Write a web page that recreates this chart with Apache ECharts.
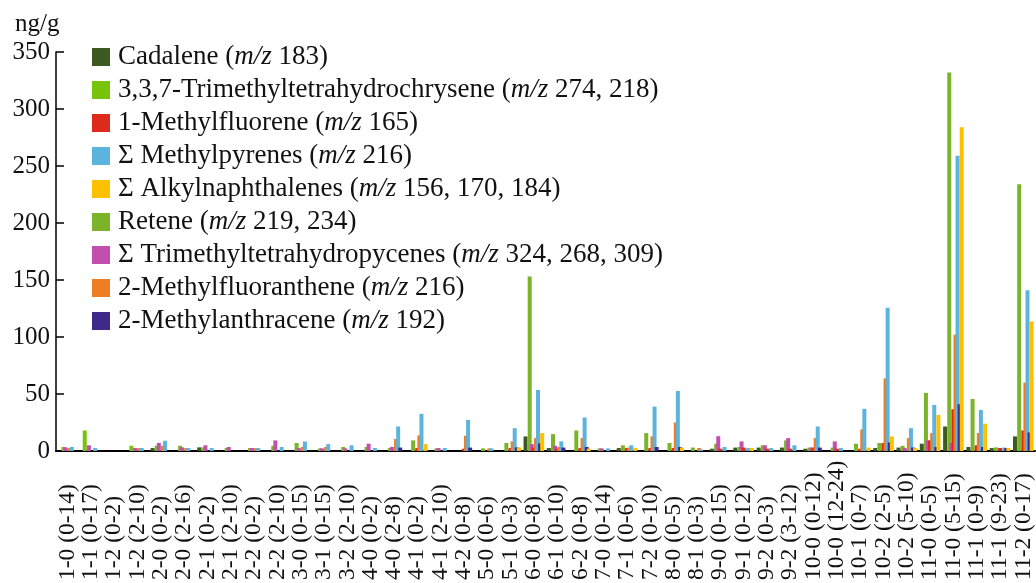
<!DOCTYPE html>
<html>
<head>
<meta charset="utf-8">
<script src="https://cdn.jsdelivr.net/npm/echarts@6/dist/echarts.min.js"></script>
<style>
  html, body { margin: 0; padding: 0; background: #fff; }
  #chart { width: 1036px; height: 583px; }
</style>
</head>
<body>
<div id="chart"></div>
<script>
// Sample codes: core - section (depth interval, cm)
const categories = [
  '1-0 (0-14)', '1-1 (0-17)', '1-2 (0-2)', '1-2 (2-10)', '2-0 (0-2)', '2-0 (2-16)',
  '2-1 (0-2)', '2-1 (2-10)', '2-2 (0-2)', '2-2 (2-10)', '3-0 (0-15)', '3-1 (0-15)',
  '3-2 (2-10)', '4-0 (0-2)', '4-0 (2-8)', '4-1 (0-2)', '4-1 (2-10)', '4-2 (0-8)',
  '5-0 (0-6)', '5-1 (0-3)', '6-0 (0-8)', '6-1 (0-10)', '6-2 (0-8)', '7-0 (0-14)',
  '7-1 (0-6)', '7-2 (0-10)', '8-0 (0-5)', '8-1 (0-3)', '9-0 (0-15)', '9-1 (0-12)',
  '9-2 (0-3)', '9-2 (3-12)', '10-0 (0-12)', '10-0 (12-24)', '10-1 (0-7)', '10-2 (2-5)',
  '10-2 (5-10)', '11-0 (0-5)', '11-0 (5-15)', '11-1 (0-9)', '11-1 (9-23)', '11-2 (0-17)'
];

const yTicks = [0, 50, 100, 150, 200, 250, 300, 350];

// Concentrations, ng/g (one value per sample above)
const cadalene = [
  0, 0, 0, 0, 2.6, 0, 3.2, 0, 0, 0, 0, 0, 0, 0,
  0, 0, 0, 0, 0, 0, 12.8, 2.6, 0, 0, 2.6, 0, 0, 0,
  2, 3, 3, 3, 2, 0, 0, 2.6, 3, 6.4, 21.5, 3.5, 2.6, 12.8
];
const trimethylTetrahydrochrysene = [
  0, 18, 0, 4.6, 0, 0, 0, 0, 0, 0, 0, 0, 0, 0,
  0, 0, 0, 0, 0, 0, 0, 0, 0, 0, 0, 0, 0, 0,
  0, 0, 0, 0, 0, 0, 0, 0, 0, 0, 0, 0, 0, 0
];
const methylfluorene = [
  0, 0, 0, 0, 0, 0, 0, 0, 0, 0, 0, 0, 0, 0,
  0, 2.6, 0, 2, 0, 2.6, 3, 2, 2.6, 0, 2.6, 2.6, 2.6, 0,
  2, 3, 2, 2, 3, 2, 2, 7, 0, 9.3, 36.6, 5, 2.6, 18
];
const methylpyrenes = [
  3.5, 2.6, 0, 2.6, 9, 2.6, 2.6, 0, 2.6, 3.5, 8.4, 6, 5, 2.6,
  21.5, 32.6, 2.6, 27.3, 2.3, 20, 53.5, 8.4, 29.4, 2.3, 5, 39, 52.6, 1.5,
  3.5, 2.6, 2.6, 5, 21.5, 2.6, 37, 125.6, 20, 40.4, 259, 36, 3, 141
];
const alkylnaphthalenes = [
  0, 0, 0, 0, 0, 0, 0, 0, 0, 0, 0, 0, 0, 0,
  0, 6, 0, 0, 0, 3.2, 15.7, 0, 2, 0, 2.6, 0, 3, 0,
  0, 2.6, 0, 0, 0, 0, 3, 12.8, 2.6, 31.7, 284, 24, 2.6, 113.7
];
const retene = [
  3.5, 0, 0, 2.6, 4.6, 4.6, 3.2, 2.6, 2.6, 4.6, 7, 2.3, 3.5, 3.5,
  2.6, 9.3, 2.3, 0, 2.3, 7, 153, 14.8, 18, 2.3, 5, 15.7, 7, 3,
  6.4, 3.5, 5, 9.3, 3, 3, 6.4, 7, 4.6, 51, 332, 45.6, 3.2, 234
];
const trimethylTetrahydropycenes = [
  3.2, 5, 0, 2.6, 7, 3.2, 5, 3.5, 2.6, 9.3, 2.6, 2.3, 2.3, 6.4,
  3.5, 0, 2.6, 0, 0, 0, 6, 4.6, 0, 2.3, 0, 0, 0, 0,
  13, 8.4, 5, 11.3, 3, 8.4, 0, 0, 2.6, 9.3, 7, 0, 0, 0
];
const methylfluoranthene = [
  2.6, 0, 0, 2.6, 4.6, 2.6, 0, 0, 2.6, 0, 3.5, 3.5, 0, 0,
  10.5, 13.7, 0, 13.4, 2.3, 8.4, 11.3, 3.5, 11.3, 0, 3, 12.8, 25, 2.6,
  0, 0, 0, 0, 11.3, 0, 19, 63.7, 11.3, 15.7, 102, 15.7, 0, 60
];
const methylanthracene = [
  0, 0, 0, 0, 0, 0, 0, 0, 0, 0, 0, 0, 0, 0,
  3, 0, 0, 3, 0, 3.2, 6.7, 3, 3.5, 0, 0, 3.5, 3.5, 0,
  0, 0, 0, 0, 3, 0, 0, 7.5, 3, 3.5, 41, 3.5, 2.6, 16.3
];

// Compound name, m/z ions, colour, values; listed in legend order
const compounds = [
  { name: 'Cadalene', mz: '183', color: '#3d5b20', data: cadalene },
  { name: '3,3,7-Trimethyltetrahydrochrysene', mz: '274, 218', color: '#78c40a', data: trimethylTetrahydrochrysene },
  { name: '1-Methylfluorene', mz: '165', color: '#dd2a1b', data: methylfluorene },
  { name: 'Σ Methylpyrenes', mz: '216', color: '#5cb3de', data: methylpyrenes },
  { name: 'Σ Alkylnaphthalenes', mz: '156, 170, 184', color: '#ffc000', data: alkylnaphthalenes },
  { name: 'Retene', mz: '219, 234', color: '#7bb32a', data: retene },
  { name: 'Σ Trimethyltetrahydropycenes', mz: '324, 268, 309', color: '#c24fae', data: trimethylTetrahydropycenes },
  { name: '2-Methylfluoranthene', mz: '216', color: '#ee7d24', data: methylfluoranthene },
  { name: '2-Methylanthracene', mz: '192', color: '#3f2a8a', data: methylanthracene }
];

// Left-to-right placement of the bars inside each sample group
const barOrder = [
  'Cadalene', '3,3,7-Trimethyltetrahydrochrysene', 'Retene', 'Σ Trimethyltetrahydropycenes',
  '1-Methylfluorene', '2-Methylfluoranthene', 'Σ Methylpyrenes', '2-Methylanthracene',
  'Σ Alkylnaphthalenes'
];

const serif = "'Liberation Serif', 'DejaVu Serif', serif";
const ink = '#111';
const byName = {};
compounds.forEach(c => { byName[c.name] = c; });

const series = barOrder.map(n => ({
  name: n,
  type: 'bar',
  data: byName[n].data,
  barWidth: 4,
  barGap: '-48%',
  itemStyle: { color: byName[n].color },
  emphasis: { disabled: true },
  animation: false
}));

const chart = echarts.init(document.getElementById('chart'), null, { renderer: 'canvas' });
chart.setOption({
  backgroundColor: '#fff',
  animation: false,
  title: {
    text: 'ng/g',
    left: 10,
    top: 7,
    textStyle: { fontFamily: serif, fontSize: 25, fontWeight: 'normal', color: ink }
  },
  legend: {
    orient: 'vertical',
    left: 92,
    top: 43,
    padding: 0,
    itemWidth: 18,
    itemHeight: 18,
    itemGap: 5,
    icon: 'rect',
    data: compounds.map(c => c.name),
    formatter: name => name + ' ({i|m/z} ' + byName[name].mz + ')',
    textStyle: {
      fontFamily: serif,
      fontSize: 27,
      lineHeight: 28,
      color: ink,
      padding: [0, 0, 0, 3],
      rich: {
        i: { fontFamily: serif, fontSize: 27, lineHeight: 28, fontStyle: 'italic', color: ink }
      }
    }
  },
  grid: { left: 56, right: 1, top: 52, bottom: 130 },
  xAxis: {
    type: 'category',
    data: categories,
    axisLine: { lineStyle: { color: '#000', width: 2 } },
    axisTick: { show: false },
    axisLabel: {
      interval: 0,
      rotate: 90,
      align: 'left',
      verticalAlign: 'middle',
      margin: 129,
      fontFamily: serif,
      fontSize: 23.5,
      color: ink
    }
  },
  yAxis: {
    type: 'value',
    min: yTicks[0],
    max: yTicks[yTicks.length - 1],
    interval: yTicks[1] - yTicks[0],
    splitLine: { show: false },
    axisLine: { show: true, lineStyle: { color: '#000', width: 1.5 } },
    axisTick: { show: true, inside: true, length: 8, lineStyle: { color: '#000', width: 1.5 } },
    axisLabel: { margin: 6, fontFamily: serif, fontSize: 25, color: ink }
  },
  series: series
});
</script>
</body>
</html>
